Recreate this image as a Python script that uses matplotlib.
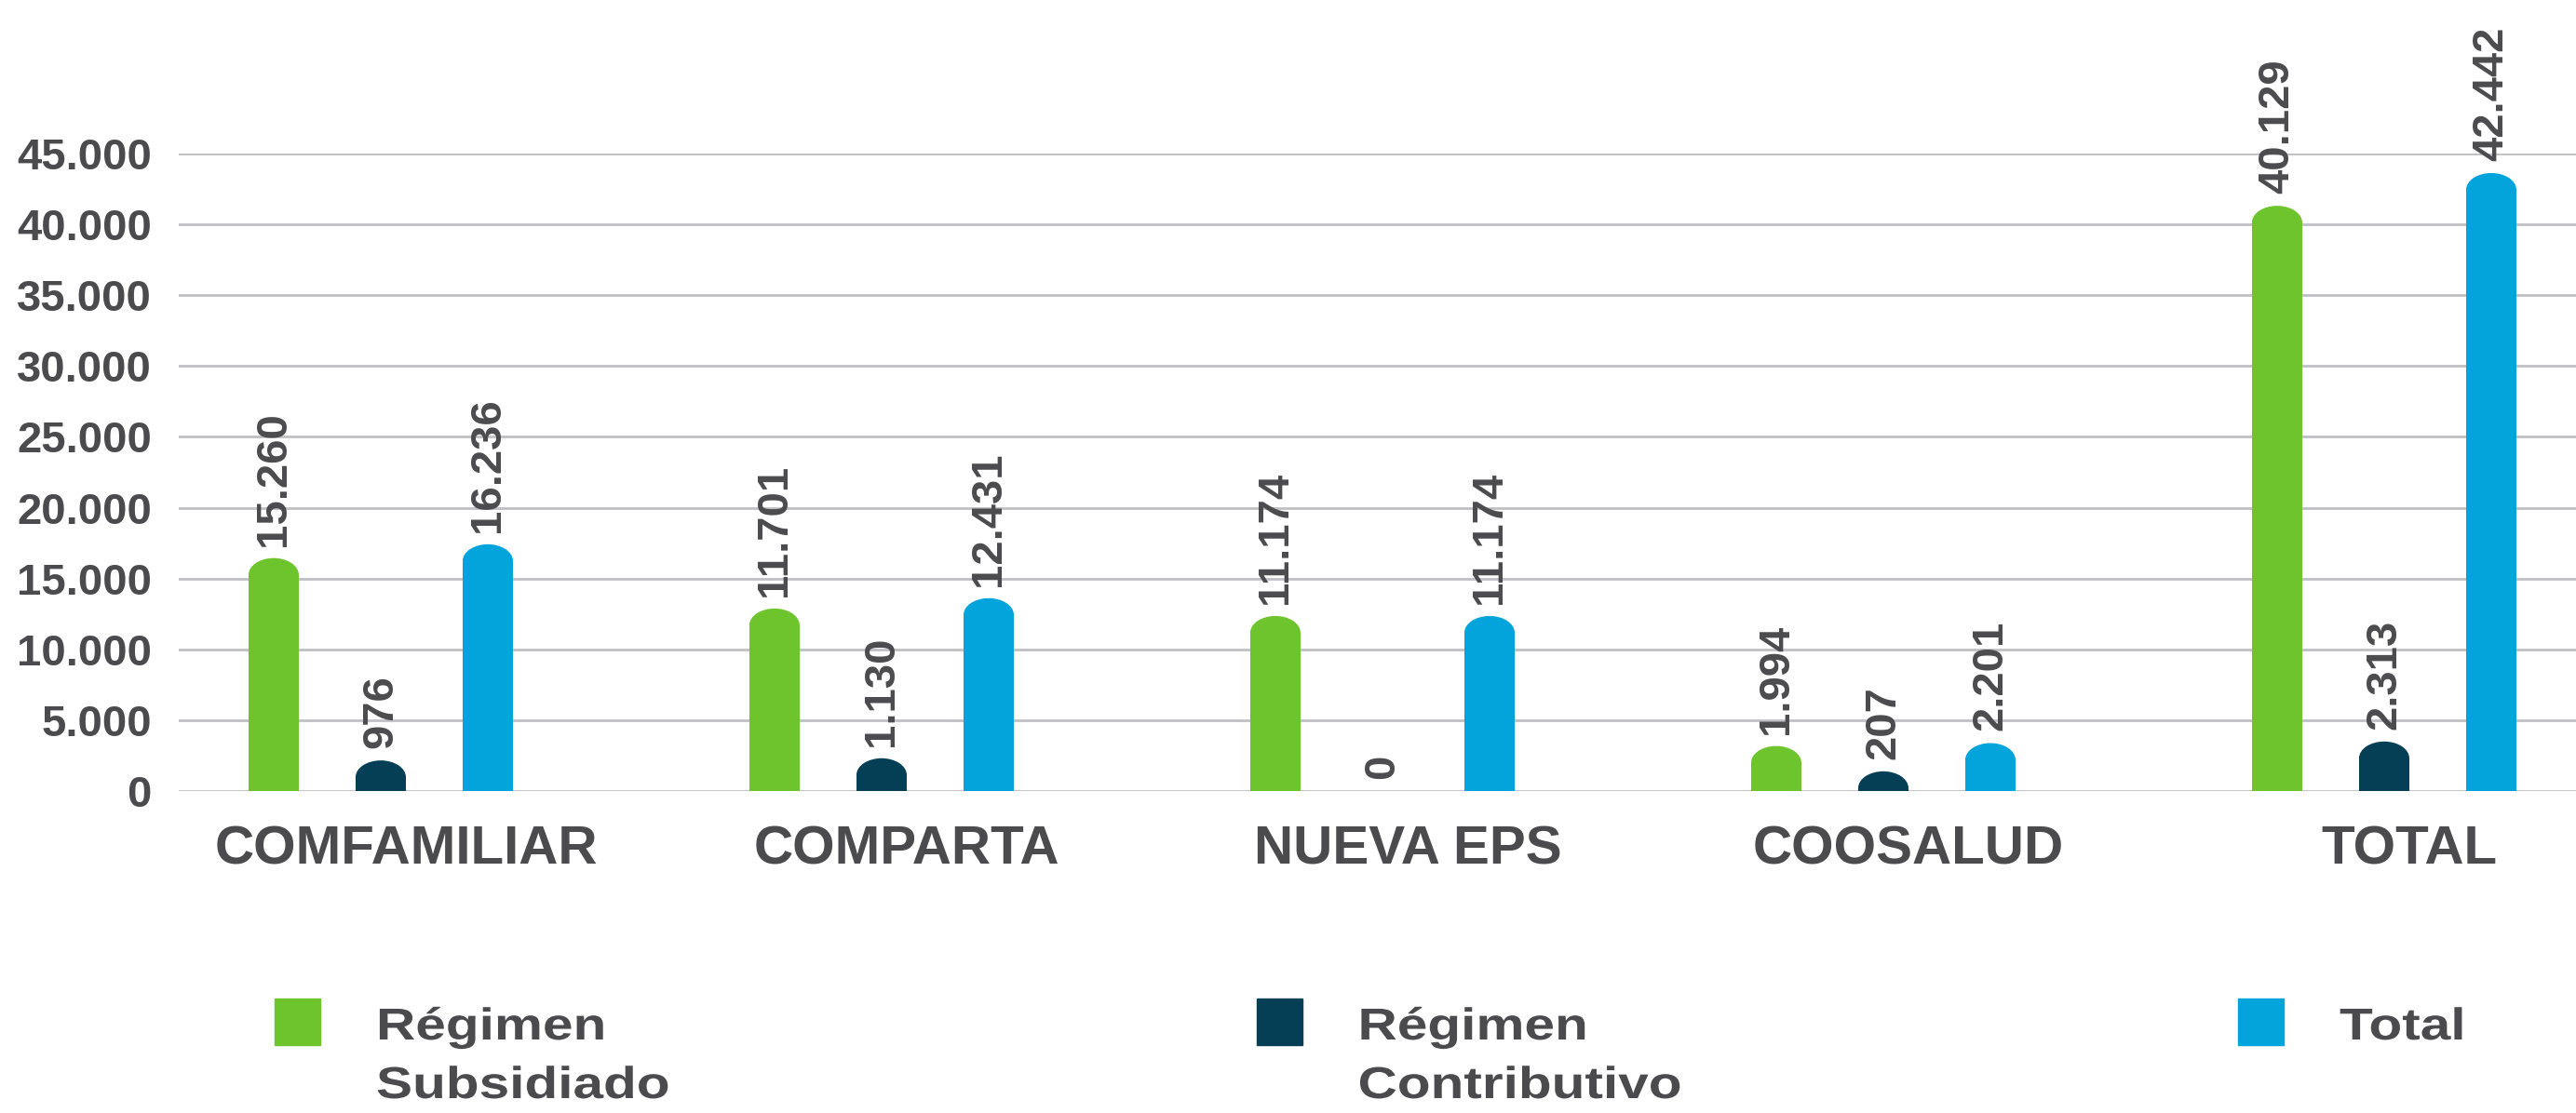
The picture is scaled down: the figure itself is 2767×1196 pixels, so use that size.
import matplotlib
matplotlib.use("Agg")
import matplotlib.pyplot as plt
from matplotlib.patches import Ellipse, Rectangle, PathPatch
from matplotlib.transforms import ScaledTranslation, Affine2D, IdentityTransform
from matplotlib.textpath import TextPath
from matplotlib.font_manager import FontProperties
import numpy as np

# data
categorias = ["COMFAMILIAR", "COMPARTA", "NUEVA EPS", "COOSALUD", "TOTAL"]
subsidiado = [15260, 11701, 11174, 1994, 40129]
contributivo = [976, 1130, 0, 207, 2313]
total = [16236, 12431, 11174, 2201, 42442]
series_names = [["Régimen", "Subsidiado"], ["Régimen", "Contributivo"], ["Total"]]
colores = ["#6EC42C", "#053F55", "#03A3DC"]
yticks = [0, 5000, 10000, 15000, 20000, 25000, 30000, 35000, 40000, 45000]

TXT = "#4B4B4D"
W, H, DPI = 2767, 1196, 100

plt.rcParams["font.family"] = ["Liberation Sans", "DejaVu Sans"]
plt.rcParams["font.weight"] = "bold"

fig = plt.figure(figsize=(W / DPI, H / DPI), dpi=DPI)
# axes box in pixels: left 192, right 2767, top 165, bottom 850
ax = fig.add_axes([192 / W, 1 - 850 / H, 1 - 192 / W, (850 - 165) / H])

x = np.arange(len(categorias))
offset = 0.2138
width = 0.1004
ymax = 45000
units_per_px = ymax / 685.0
cap_px = 18  # half height of rounded top, in pixels
cap = cap_px * units_per_px


def draw_rounded_bars(ax, xs, vals, color):
    '''bar plus an elliptic cap so the top looks rounded'''
    for xi, v in zip(xs, vals):
        if v <= 0:
            continue
        ax.bar(xi, v, width=width, color=color, zorder=3, linewidth=0)
        ax.add_patch(Ellipse((xi, v), width, 2 * cap, color=color,
                             zorder=3, linewidth=0))


def label_bars(ax, xs, vals):
    for xi, v in zip(xs, vals):
        extra = cap_px if v > 0 else 0
        ax.annotate(f"{v:,}".replace(",", "."), (xi, v),
                    xytext=(0, (extra + 13) * 0.72), textcoords="offset points",
                    rotation=90, ha="center", va="bottom", fontsize=34,
                    fontweight="bold", color=TXT, annotation_clip=False)


for k, vals in enumerate([subsidiado, contributivo, total]):
    xs = x + (k - 1) * offset
    draw_rounded_bars(ax, xs, vals, colores[k])
    label_bars(ax, xs, vals)

ax.set_xlim(-0.4033, 4.383)
ax.set_ylim(0, ymax)
ax.set_yticks(yticks)
ax.set_yticklabels([f"{t:,}".replace(",", ".") for t in yticks])
ax.grid(axis="y", color="#C0C0C4", linewidth=2, zorder=0)
ax.set_axisbelow(True)
for s in ax.spines.values():
    s.set_visible(False)
ax.tick_params(axis="y", length=0, pad=21, labelsize=34, labelcolor=TXT)

ax.set_xticks(x)
ax.set_xticklabels(categorias)
ax.tick_params(axis="x", length=0, pad=26, labelsize=42, labelcolor=TXT)
shift = ScaledTranslation(27 / DPI, 0, fig.dpi_scale_trans)
for lab in ax.get_xticklabels():
    lab.set_transform(lab.get_transform() + shift)

# legend drawn by hand; legend text is a bit wider than normal, so use
# text paths stretched horizontally
fp = FontProperties(family="Liberation Sans", weight="bold")
em = 48
stretch = 1.22
for i, (lines, col) in enumerate(zip(series_names, colores)):
    sx = 295 + i * 1054.5
    fig.patches.append(Rectangle((sx / W, 1 - 1123 / H), 49 / W, 50 / H,
                                 transform=fig.transFigure, color=col))
    for j, line in enumerate(lines):
        base = H - (1117 + j * 63)
        tp = TextPath((0, 0), line, size=em, prop=fp)
        tr = Affine2D().scale(stretch, 1).translate(sx + 109, base) + IdentityTransform()
        fig.patches.append(PathPatch(tp, transform=tr, color=TXT, lw=0))

fig.savefig("out.png", dpi=DPI)
